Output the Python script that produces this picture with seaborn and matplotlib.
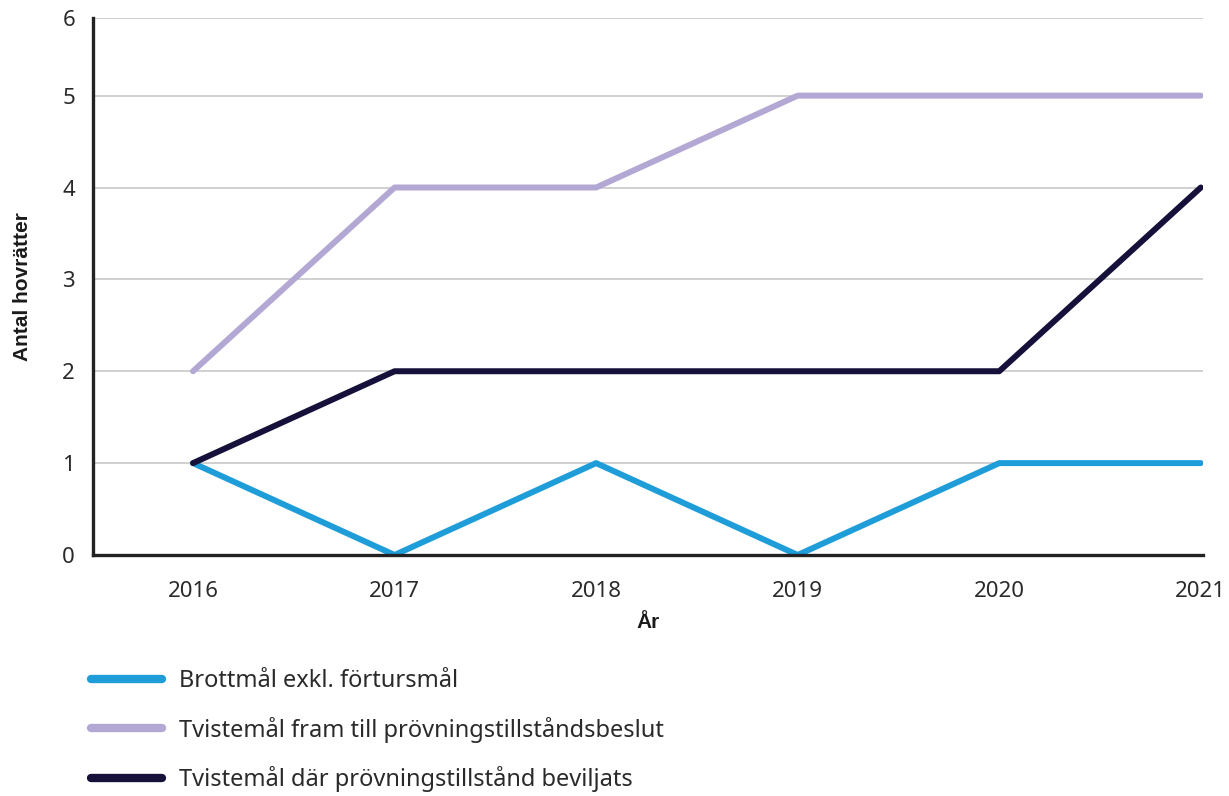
import pandas as pd
import matplotlib
matplotlib.use("Agg")
import matplotlib.pyplot as plt
import seaborn as sns

years = [2016, 2017, 2018, 2019, 2020, 2021]
brottmal = [1, 0, 1, 0, 1, 1]
tvistemal_fram = [2, 4, 4, 5, 5, 5]
tvistemal_beviljats = [1, 2, 2, 2, 2, 4]
series_names = [
    "Brottmål exkl. förtursmål",
    "Tvistemål fram till prövningstillståndsbeslut",
    "Tvistemål där prövningstillstånd beviljats",
]
colors = ["#1f9dd9", "#b3a8d4", "#15113a"]
y_labels = ["0", "1", "2", "3", "4", "5", "6"]

df = pd.concat([
    pd.DataFrame({"År": years, "Antal": brottmal, "Serie": series_names[0]}),
    pd.DataFrame({"År": years, "Antal": tvistemal_fram, "Serie": series_names[1]}),
    pd.DataFrame({"År": years, "Antal": tvistemal_beviljats, "Serie": series_names[2]}),
])

sns.set_theme(style="white")
plt.rcParams["font.family"] = ["Noto Sans", "DejaVu Sans"]

fig = plt.figure(figsize=(12.29, 7.96), dpi=100)
ax = fig.add_axes([0.0757, 0.3028, 0.903, 0.674])

sns.lineplot(data=df, x="År", y="Antal", hue="Serie", palette=colors,
             linewidth=4.3, ax=ax, legend=False, solid_capstyle="round")

# the top gridline in the original sits a bit lower than a true 6
top = 5.84
ax.set_xlim(2015.504, 2021.01)
ax.set_ylim(0, top)
ax.set_xticks(years)
ax.set_yticks([0, 1, 2, 3, 4, 5, top])
ax.set_yticklabels(y_labels)
ax.yaxis.grid(True, color="#c8c8c8", linewidth=1.2)
ax.set_axisbelow(True)
for side in ["top", "right"]:
    ax.spines[side].set_visible(False)
for side in ["left", "bottom"]:
    ax.spines[side].set_color("#222222")
    ax.spines[side].set_linewidth(2.4)
ax.tick_params(axis="x", direction="in", length=7, width=2, color="#222222",
               labelsize=16, labelcolor="#2a2a2a", pad=19)
ax.tick_params(axis="y", length=0, labelsize=16, labelcolor="#2a2a2a", pad=13)

bold = {"family": ["Liberation Sans", "DejaVu Sans"], "size": 15,
        "weight": "bold", "color": "#1a1a1a"}
ax.set_xlabel("År", fontdict=bold, labelpad=8)
ax.set_ylabel("Antal hovrätter", fontdict=bold, labelpad=22)

handles = [plt.Line2D([], [], color=c, linewidth=6, solid_capstyle="round") for c in colors]
fig.legend(handles, series_names, loc="lower left", bbox_to_anchor=(0.057, -0.022),
           frameon=False, fontsize=17, handlelength=3.0, handletextpad=0.72,
           labelspacing=1.0, labelcolor="#2a2a2a")

fig.savefig("out.png", dpi=100)
